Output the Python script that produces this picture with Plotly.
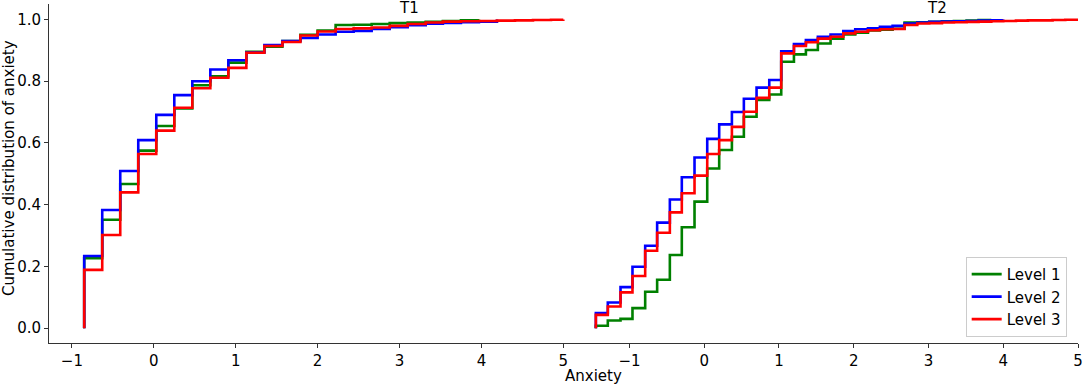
import plotly.graph_objects as go

# ---- data ----
T1_x = [-0.85, -0.63, -0.41, -0.19, 0.03, 0.25, 0.47, 0.69, 0.91, 1.13, 1.35, 1.57, 1.79, 2.00,
        2.22, 2.44, 2.66, 2.88, 3.10, 3.32, 3.53, 3.75, 3.97, 4.19, 4.41, 4.63, 4.85, 5.00]
T1_level1 = [0.227, 0.351, 0.467, 0.575, 0.655, 0.712, 0.787, 0.816, 0.860, 0.895, 0.912, 0.930,
             0.950, 0.964, 0.982, 0.983, 0.985, 0.988, 0.990, 0.992, 0.995, 0.997, 1.0]
T1_level2 = [0.234, 0.383, 0.509, 0.609, 0.691, 0.755, 0.800, 0.838, 0.868, 0.893, 0.917, 0.930,
             0.940, 0.951, 0.960, 0.963, 0.969, 0.975, 0.981, 0.986, 0.989, 0.991, 0.993, 1.0]
T1_level3 = [0.189, 0.302, 0.440, 0.564, 0.640, 0.714, 0.777, 0.811, 0.843, 0.892, 0.914, 0.927,
             0.948, 0.961, 0.969, 0.971, 0.974, 0.979, 0.985, 0.990, 0.993, 0.994, 0.995, 0.996,
             0.997, 0.998, 0.999, 1.0]

T2_x = [-1.45, -1.29, -1.12, -0.96, -0.79, -0.63, -0.46, -0.30, -0.13, 0.04, 0.20, 0.37, 0.53,
        0.70, 0.87, 1.03, 1.20, 1.36, 1.52, 1.69, 1.86, 2.02, 2.19, 2.35, 2.52, 2.68, 2.85, 3.01,
        3.18, 3.34, 3.51, 3.67, 3.84, 4.00, 4.17, 4.33, 4.50, 4.66, 4.83, 5.00]
T2_level1 = [0.008, 0.025, 0.030, 0.065, 0.118, 0.157, 0.237, 0.327, 0.410, 0.517, 0.577, 0.620,
             0.685, 0.739, 0.757, 0.863, 0.887, 0.901, 0.922, 0.938, 0.951, 0.957, 0.964, 0.967,
             0.970, 0.990, 0.991, 0.992, 0.994, 0.995, 0.996, 0.998, 1.0]
T2_level2 = [0.049, 0.083, 0.133, 0.199, 0.267, 0.342, 0.417, 0.489, 0.553, 0.613, 0.660, 0.700,
             0.743, 0.779, 0.804, 0.897, 0.920, 0.933, 0.944, 0.951, 0.962, 0.968, 0.971, 0.976,
             0.979, 0.987, 0.990, 0.992, 0.993, 0.994, 0.995, 0.996, 0.997, 1.0]
T2_level3 = [0.043, 0.070, 0.116, 0.169, 0.251, 0.309, 0.375, 0.437, 0.494, 0.564, 0.609, 0.652,
             0.701, 0.746, 0.779, 0.890, 0.914, 0.926, 0.938, 0.944, 0.955, 0.960, 0.965, 0.968,
             0.969, 0.982, 0.987, 0.988, 0.990, 0.991, 0.992, 0.993, 0.994, 0.995, 0.996, 0.997,
             0.997, 0.998, 0.999, 1.0]

levels = ["Level 1", "Level 2", "Level 3"]
colors = ["#008000", "#0000ff", "#ff0000"]
panel_titles = ["T1", "T2"]
y_ticks = [0.0, 0.2, 0.4, 0.6, 0.8, 1.0]
x_ticks = [-1, 0, 1, 2, 3, 4, 5]

FONT = "DejaVu Sans"
FS = 15
fig = go.Figure()

panels = [("x", T1_x, [T1_level1, T1_level2, T1_level3]),
          ("x2", T2_x, [T2_level1, T2_level2, T2_level3])]
for pi, (xa, xs, series) in enumerate(panels):
    for li, vals in enumerate(series):
        n = len(vals)
        px = [xs[0]] + xs[:n]
        py = [0.0] + vals
        fig.add_trace(go.Scatter(
            x=px, y=py, mode="lines", line=dict(color=colors[li], width=2.6, shape="hv"),
            name=levels[li], showlegend=(pi == 1), xaxis=xa, yaxis="y",
            legendrank=li,
        ))

W, H = 1084, 384
L, R, T, B = 49, 6, 4, 41
pw = W - L - R
ph = H - T - B
split = (580 - L) / pw

axis_common = dict(
    showgrid=False, zeroline=False, showline=True, linecolor="#333333", linewidth=1,
    ticks="outside", ticklen=4, tickwidth=1, tickcolor="#333333", automargin=False,
    tickfont=dict(family=FONT, size=FS, color="black"),
    tickvals=x_ticks, ticktext=["\u22121", "0", "1", "2", "3", "4", "5"],
)
fig.update_layout(
    width=W, height=H,
    margin=dict(l=L, r=R, t=T, b=B),
    plot_bgcolor="white", paper_bgcolor="white",
    font=dict(family=FONT, size=FS, color="black"),
    xaxis=dict(domain=[0, split], range=[-1.28, 5.204], anchor="y", **axis_common),
    xaxis2=dict(domain=[split, 1], range=[-1.662, 5.0], anchor="y", **axis_common),
    yaxis=dict(range=[-0.048, 1.05], anchor="x", showgrid=False, zeroline=False,
               showline=True, linecolor="#333333", linewidth=1, ticks="outside", ticklen=4,
               tickcolor="#333333", tickvals=y_ticks, automargin=False,
               ticktext=[f"{v:.1f}" for v in y_ticks],
               tickfont=dict(family=FONT, size=FS, color="black")),
    legend=dict(x=0.989, xanchor="right", y=0.018, yanchor="bottom",
                bgcolor="rgba(255,255,255,0.8)", bordercolor="#cccccc", borderwidth=1,
                font=dict(family=FONT, size=FS, color="black"), tracegroupgap=0),
    showlegend=True,
)

fig.add_annotation(text=panel_titles[0], x=3.12, xref="x", y=1 - 4 / ph, yref="paper",
                   yanchor="middle", showarrow=False, font=dict(family=FONT, size=FS))
fig.add_annotation(text=panel_titles[1], x=3.12, xref="x2", y=1 - 4 / ph, yref="paper",
                   yanchor="middle", showarrow=False, font=dict(family=FONT, size=FS))
fig.add_annotation(text="Anxiety", x=(593 - L) / pw, xref="paper", y=-(376 - (T + ph)) / ph,
                   yref="paper", yanchor="middle", xanchor="center", showarrow=False,
                   font=dict(family=FONT, size=FS))
fig.add_annotation(text="Cumulative distribution of anxiety", x=(9 - L) / pw, xref="paper",
                   y=(T + ph - 168) / ph, yref="paper", textangle=-90, xanchor="center",
                   yanchor="middle", showarrow=False, font=dict(family=FONT, size=FS))

fig.write_html("out.html", config={"displayModeBar": False},
               post_script="document.body.style.margin='0';")
